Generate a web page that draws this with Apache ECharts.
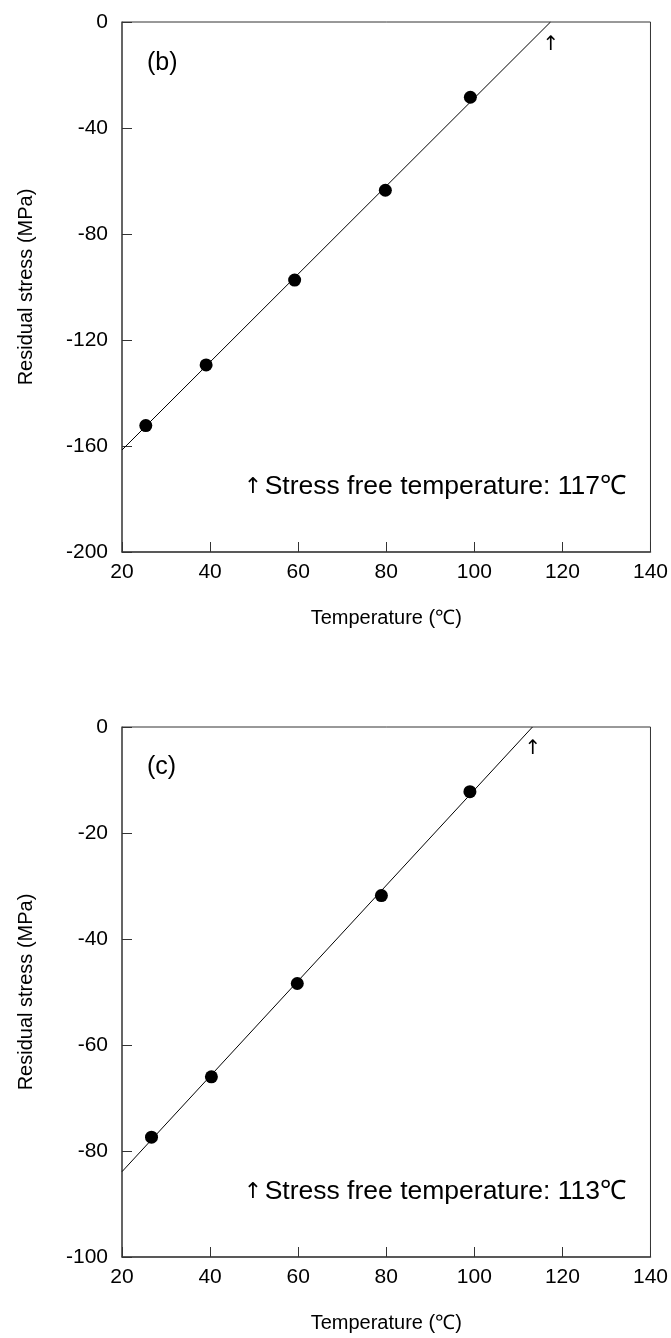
<!DOCTYPE html>
<html>
<head>
<meta charset="utf-8">
<script src="https://cdn.jsdelivr.net/npm/echarts@6/dist/echarts.min.js"></script>
<style>
html,body{margin:0;padding:0;background:#fff;}
#c{width:671px;height:1338px;}
</style>
</head>
<body>
<div id="c"></div>
<script>
// Panel (b)
var tempB = [25.4, 39.1, 59.2, 79.8, 99.1];
var stressB = [-152.3, -129.4, -97.4, -63.5, -28.4];
var fitB = [[20, -161.5], [117.3, 0]];
// Panel (c)
var tempC = [26.7, 40.3, 59.8, 78.9, 99.0];
var stressC = [-77.4, -66.0, -48.4, -31.8, -12.2];
var fitC = [[20, -83.9], [113.2, 0]];

var xTicks = {min: 20, max: 140, interval: 20};
var yTicksB = {min: -200, max: 0, interval: 40};
var yTicksC = {min: -100, max: 0, interval: 20};

var FONT = 'Liberation Sans, Arial, sans-serif';

function pairs(xs, ys) { return xs.map(function (x, i) { return [x, ys[i]]; }); }

function xAxisCfg(idx) {
  return {
    type: 'value', gridIndex: idx,
    min: xTicks.min, max: xTicks.max, interval: xTicks.interval,
    axisLine: {show: true, onZero: false, lineStyle: {color: '#444', width: 1.5}},
    axisTick: {show: true, inside: true, length: 10, lineStyle: {color: '#333', width: 1}},
    splitLine: {show: false},
    axisLabel: {fontSize: 21, color: '#000', fontFamily: FONT, margin: 10},
    name: 'Temperature (\u2103)', nameLocation: 'middle', nameGap: 56,
    nameTextStyle: {fontSize: 20, color: '#000', fontFamily: FONT}
  };
}
function yAxisCfg(idx, t) {
  return {
    type: 'value', gridIndex: idx,
    min: t.min, max: t.max, interval: t.interval,
    axisLine: {show: true, onZero: false, lineStyle: {color: '#555', width: 1.5}},
    axisTick: {show: true, inside: true, length: 10, lineStyle: {color: '#333', width: 1}},
    splitLine: {show: false},
    axisLabel: {fontSize: 21, color: '#000', fontFamily: FONT, margin: 14},
    name: 'Residual stress (MPa)', nameLocation: 'middle', nameGap: 86, nameRotate: 90,
    nameTextStyle: {fontSize: 20, color: '#000', fontFamily: FONT}
  };
}

var chart = echarts.init(document.getElementById('c'), null, {renderer: 'canvas'});
chart.setOption({
  animation: false,
  backgroundColor: '#fff',
  grid: [
    {left: 122, top: 22, width: 529, height: 530, show: true, borderColor: '#333', borderWidth: 1},
    {left: 122, top: 727, width: 529, height: 530, show: true, borderColor: '#333', borderWidth: 1}
  ],
  xAxis: [xAxisCfg(0), xAxisCfg(1)],
  yAxis: [yAxisCfg(0, yTicksB), yAxisCfg(1, yTicksC)],
  series: [
    {type: 'line', xAxisIndex: 0, yAxisIndex: 0, data: fitB, symbol: 'none',
     lineStyle: {color: '#000', width: 1}, clip: true, z: 2},
    {type: 'scatter', xAxisIndex: 0, yAxisIndex: 0, data: pairs(tempB, stressB),
     symbolSize: 13, itemStyle: {color: '#000', opacity: 1}, z: 3},
    {type: 'line', xAxisIndex: 1, yAxisIndex: 1, data: fitC, symbol: 'none',
     lineStyle: {color: '#000', width: 1}, clip: true, z: 2},
    {type: 'scatter', xAxisIndex: 1, yAxisIndex: 1, data: pairs(tempC, stressC),
     symbolSize: 13, itemStyle: {color: '#000', opacity: 1}, z: 3}
  ],
  graphic: [
    {type: 'text', style: {text: '(b)', x: 147, y: 63, fontSize: 25, fontFamily: FONT, fill: '#000', verticalAlign: 'middle'}},
    {type: 'text', style: {text: '(c)', x: 147, y: 767, fontSize: 25, fontFamily: FONT, fill: '#000', verticalAlign: 'middle'}},
    {type: 'text', style: {text: '\u2191', x: 551, y: 45, fontSize: 20, fontFamily: 'DejaVu Sans', fill: '#000', align: 'center', verticalAlign: 'middle'}},
    {type: 'text', style: {text: '\u2191', x: 533, y: 749, fontSize: 20, fontFamily: 'DejaVu Sans', fill: '#000', align: 'center', verticalAlign: 'middle'}},
    {type: 'text', style: {text: '\u2191', x: 253, y: 487, fontSize: 22, fontFamily: 'DejaVu Sans', fill: '#000', align: 'center', verticalAlign: 'middle'}},
    {type: 'text', style: {text: 'Stress free temperature: 117\u2103', x: 626, y: 487, fontSize: 26.5, fontFamily: FONT, fill: '#000', align: 'right', verticalAlign: 'middle'}},
    {type: 'text', style: {text: '\u2191', x: 253, y: 1192, fontSize: 22, fontFamily: 'DejaVu Sans', fill: '#000', align: 'center', verticalAlign: 'middle'}},
    {type: 'text', style: {text: 'Stress free temperature: 113\u2103', x: 626, y: 1192, fontSize: 26.5, fontFamily: FONT, fill: '#000', align: 'right', verticalAlign: 'middle'}}
  ]
});
</script>
</body>
</html>
